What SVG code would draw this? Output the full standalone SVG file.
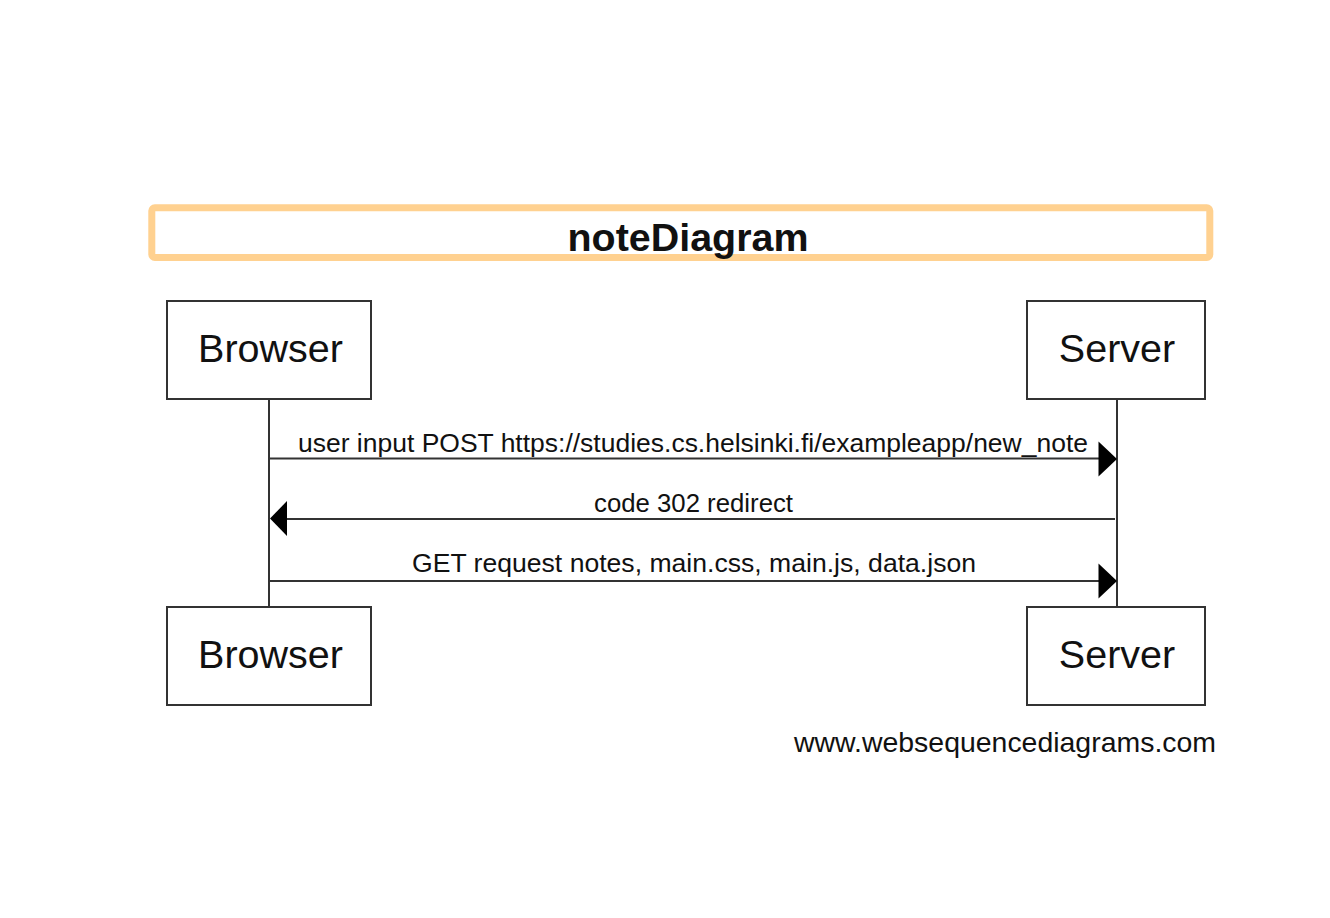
<svg xmlns="http://www.w3.org/2000/svg" width="1330" height="918" viewBox="0 0 1330 918">
<style>
.box{fill:#fff;stroke:#333;stroke-width:2}
.life{stroke:#333;stroke-width:2;fill:none}
.msg{stroke:#333;stroke-width:2;fill:none}
.head{fill:#000;stroke:none}
.pl{font-family:"Liberation Sans",Arial,sans-serif;font-size:39.5px;fill:#111;text-anchor:middle}
.ml{font-family:"Liberation Sans",Arial,sans-serif;font-size:26.5px;fill:#111}
</style>
<rect width="1330" height="918" fill="#fff"/>
<g id="title">
<rect x="151.8" y="207.8" width="1058" height="49.7" rx="3" fill="#fff" stroke="#FFD190" stroke-width="7"/>
<text x="688" y="251" font-family="Liberation Sans,Arial,sans-serif" font-size="39.5" font-weight="bold" fill="#111" text-anchor="middle" textLength="241" lengthAdjust="spacingAndGlyphs">noteDiagram</text>
</g>
<g id="lifelines">
<line class="life" x1="269" y1="399" x2="269" y2="606"/>
<line class="life" x1="1117" y1="399" x2="1117" y2="606"/>
</g>
<g id="browser-top">
<rect class="box" x="167" y="301" width="204" height="98"/>
<text class="pl" x="270.5" y="362">Browser</text>
</g>
<g id="server-top">
<rect class="box" x="1027" y="301" width="178" height="98"/>
<text class="pl" x="1117" y="362">Server</text>
</g>
<g id="browser-bottom">
<rect class="box" x="167" y="607" width="204" height="98"/>
<text class="pl" x="270.5" y="668">Browser</text>
</g>
<g id="server-bottom">
<rect class="box" x="1027" y="607" width="178" height="98"/>
<text class="pl" x="1117" y="668">Server</text>
</g>
<g id="connectors">
<line class="msg" x1="269" y1="458.5" x2="1100" y2="458.5"/>
<polygon class="head" points="1117,459 1098.5,441.5 1098.5,476.5"/>
<text class="ml" x="298" y="452" textLength="790" lengthAdjust="spacingAndGlyphs">user input POST https://studies.cs.helsinki.fi/exampleapp/new_note</text>
<line class="msg" x1="1115" y1="519" x2="285" y2="519"/>
<polygon class="head" points="270,518.5 287,501 287,536"/>
<text class="ml" x="594" y="512" textLength="199" lengthAdjust="spacingAndGlyphs">code 302 redirect</text>
<line class="msg" x1="269" y1="581" x2="1100" y2="581"/>
<polygon class="head" points="1117,581 1098.5,563.5 1098.5,598.5"/>
<text class="ml" x="412" y="572" textLength="564" lengthAdjust="spacingAndGlyphs">GET request notes, main.css, main.js, data.json</text>
</g>
<text x="794" y="752" font-family="Liberation Sans,Arial,sans-serif" font-size="28" fill="#111" textLength="422" lengthAdjust="spacingAndGlyphs">www.websequencediagrams.com</text>
</svg>
